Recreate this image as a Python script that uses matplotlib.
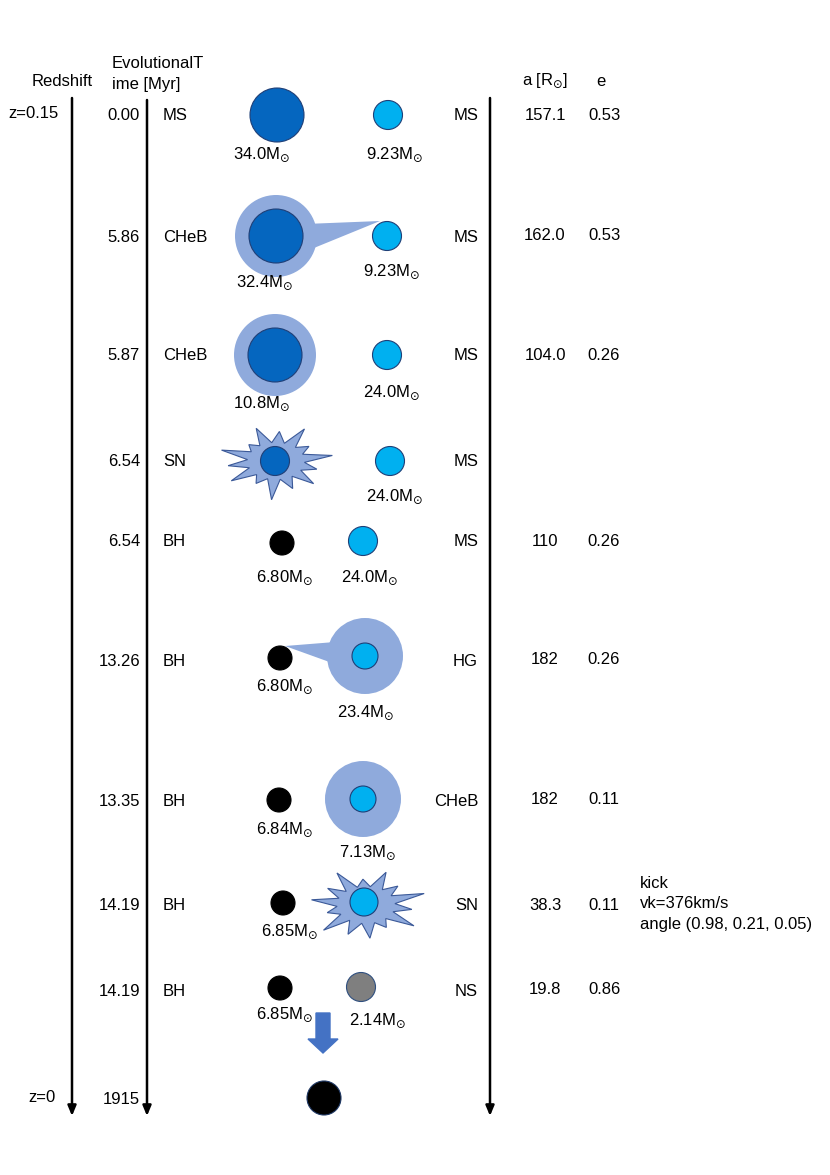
import numpy as np
import matplotlib.pyplot as plt
from matplotlib.patches import Circle, Polygon, FancyArrow

plt.rcParams['font.family'] = ['Liberation Sans', 'DejaVu Sans']
plt.rcParams['mathtext.fontset'] = 'dejavusans'

# data
times = ["0.00", "5.86", "5.87", "6.54", "6.54", "13.26", "13.35", "14.19", "14.19", "1915"]
left_stage = ["MS", "CHeB", "CHeB", "SN", "BH", "BH", "BH", "BH", "BH"]
right_stage = ["MS", "MS", "MS", "MS", "MS", "HG", "CHeB", "SN", "NS"]
a_vals = ["157.1", "162.0", "104.0", "", "110", "182", "182", "38.3", "19.8"]
e_vals = ["0.53", "0.53", "0.26", "", "0.26", "0.26", "0.11", "0.11", "0.86"]
m1 = ["34.0", "32.4", "10.8", "", "6.80", "6.80", "6.84", "6.85", "6.85"]
m2 = ["9.23", "9.23", "24.0", "24.0", "24.0", "23.4", "7.13", "", "2.14"]
kick = ["kick", "vk=376km/s", "angle (0.98, 0.21, 0.05)"]

# layout (pixels)
row_y = [115, 236, 355, 461, 541, 660, 800, 905, 990, 1098]
DARK = '#0566BF'
LIGHT = '#00B0F0'
ENV = '#8FAADC'
EDGE = '#1F3F77'
FS = 12

fig = plt.figure(figsize=(8.30, 11.75), dpi=100)
ax = fig.add_axes([0, 0, 1, 1])
ax.set_xlim(0, 830)
ax.set_ylim(1175, 0)
ax.axis('off')


def star(x, y, r, color, edge=EDGE, z=3):
    ax.add_patch(Circle((x, y), r, facecolor=color, edgecolor=edge, lw=0.8, zorder=z))


def envelope(x, y, r):
    ax.add_patch(Circle((x, y), r, facecolor=ENV, edgecolor='none', zorder=2))


def burst(x, y, rx, ry, radii, rot=0.2):
    n = len(radii)
    pts = []
    for i, rr in enumerate(radii):
        t0 = rot + 2 * np.pi * i / n
        t1 = t0 + np.pi / n
        pts.append((x + rx * rr * np.cos(t0), y - ry * rr * np.sin(t0)))
        pts.append((x + rx * 0.5 * np.cos(t1), y - ry * 0.5 * np.sin(t1)))
    ax.add_patch(Polygon(pts, closed=True, facecolor=ENV, edgecolor='#3B5998', lw=0.8, zorder=2))


def mass(x, y, m):
    if m:
        ax.text(x, y, m + r"M$_{\odot}$", ha='center', va='center', fontsize=FS)


# headers
ax.text(62, 82, "Redshift", ha='center', va='center', fontsize=FS)
ax.text(112, 64, "EvolutionalT", ha='left', va='center', fontsize=FS)
ax.text(112, 84, "ime [Myr]", ha='left', va='center', fontsize=FS)
ax.text(545, 81, r"a [R$_{\odot}$]", ha='center', va='center', fontsize=FS)
ax.text(601, 81, "e", ha='center', va='center', fontsize=FS)
ax.text(33, 113, "z=0.15", ha='center', va='center', fontsize=FS)
ax.text(42, 1097, "z=0", ha='center', va='center', fontsize=FS)

# vertical arrows
for xl, y0 in [(72, 98), (147, 100), (490, 98)]:
    ax.annotate("", xy=(xl, 1116), xytext=(xl, y0),
                arrowprops=dict(arrowstyle='-|>,head_length=0.6,head_width=0.25',
                                lw=1.8, color='black', shrinkA=0, shrinkB=0))

# table texts
for i, t in enumerate(times):
    ax.text(140, row_y[i] + 1, t, ha='right', va='center', fontsize=FS)
for i in range(len(left_stage)):
    y = row_y[i]
    ax.text(163, y + 1, left_stage[i], ha='left', va='center', fontsize=FS)
    ax.text(478, y + 1, right_stage[i], ha='right', va='center', fontsize=FS)
    ax.text(545, y, a_vals[i], ha='center', va='center', fontsize=FS)
    ax.text(604, y, e_vals[i], ha='center', va='center', fontsize=FS)
for j, k in enumerate(kick):
    ax.text(640, 883 + 21 * j, k, ha='left', va='center', fontsize=FS)

# row 1
y = row_y[0]
star(277, y, 27, DARK)
star(388, y, 14.5, LIGHT)
mass(262, y + 40, m1[0])
mass(395, y + 40, m2[0])

# row 2: mass transfer from primary envelope
y = row_y[1]
envelope(276, y, 41)
ax.add_patch(Polygon([(305, y - 12), (380, y - 15), (309, y + 14)], closed=True,
                     facecolor=ENV, edgecolor='none', zorder=2))
star(276, y, 27, DARK)
star(387, y, 14.5, LIGHT)
mass(265, y + 47, m1[1])
mass(392, y + 36, m2[1])

# row 3
y = row_y[2]
envelope(275, y, 41)
star(275, y, 27, DARK)
star(387, y, 14.5, LIGHT)
mass(262, y + 49, m1[2])
mass(392, y + 38, m2[2])

# row 4: supernova of primary
y = row_y[3]
burst(276, y, 57, 37, [1.0, 0.7, 1.0, 0.8, 0.95, 0.65, 1.0, 0.85, 0.95, 0.7, 1.05, 0.8, 0.9, 0.75], rot=0.15)
star(275, y, 14.5, DARK)
star(390, y, 14.5, LIGHT)
mass(395, y + 36, m2[3])

# row 5
y = row_y[4]
star(282, y + 2, 12, 'black', edge='black')
star(363, y, 14.5, LIGHT)
mass(285, y + 37, m1[4])
mass(370, y + 37, m2[4])

# row 6: mass transfer onto BH
y = row_y[5]
envelope(365, y - 4, 38)
ax.add_patch(Polygon([(285, y - 14), (335, y - 18), (335, y + 4)], closed=True,
                     facecolor=ENV, edgecolor='none', zorder=2))
star(280, y - 2, 12, 'black', edge='black')
star(365, y - 4, 13, LIGHT)
mass(285, y + 27, m1[5])
mass(366, y + 53, m2[5])

# row 7
y = row_y[6]
envelope(363, y - 1, 38)
star(279, y, 12, 'black', edge='black')
star(363, y - 1, 13, LIGHT)
mass(285, y + 30, m1[6])
mass(368, y + 53, m2[6])

# row 8: supernova of secondary
y = row_y[7]
burst(366, y, 58, 37, [1.05, 0.75, 0.95, 0.7, 1.0, 0.8, 0.95, 0.7, 1.0, 0.85, 0.9, 0.7, 1.0, 0.8], rot=0.3)
star(283, y - 2, 12, 'black', edge='black')
star(364, y - 3, 14, LIGHT)
mass(290, y + 27, m1[7])

# row 9
y = row_y[8]
star(280, y - 2, 12, 'black', edge='black')
star(361, y - 3, 14.5, '#7F7F7F', edge='#2F4F7F')
mass(285, y + 25, m1[8])
mass(378, y + 31, m2[8])

# merger arrow and final BH
ax.add_patch(FancyArrow(323, 1013, 0, 40, width=14, head_width=30, head_length=14,
                        length_includes_head=True, facecolor='#4472C4', edgecolor='#4472C4', zorder=3))
star(324, row_y[9], 17, 'black', edge='#1F3864')

fig.savefig("out.png", dpi=100)
